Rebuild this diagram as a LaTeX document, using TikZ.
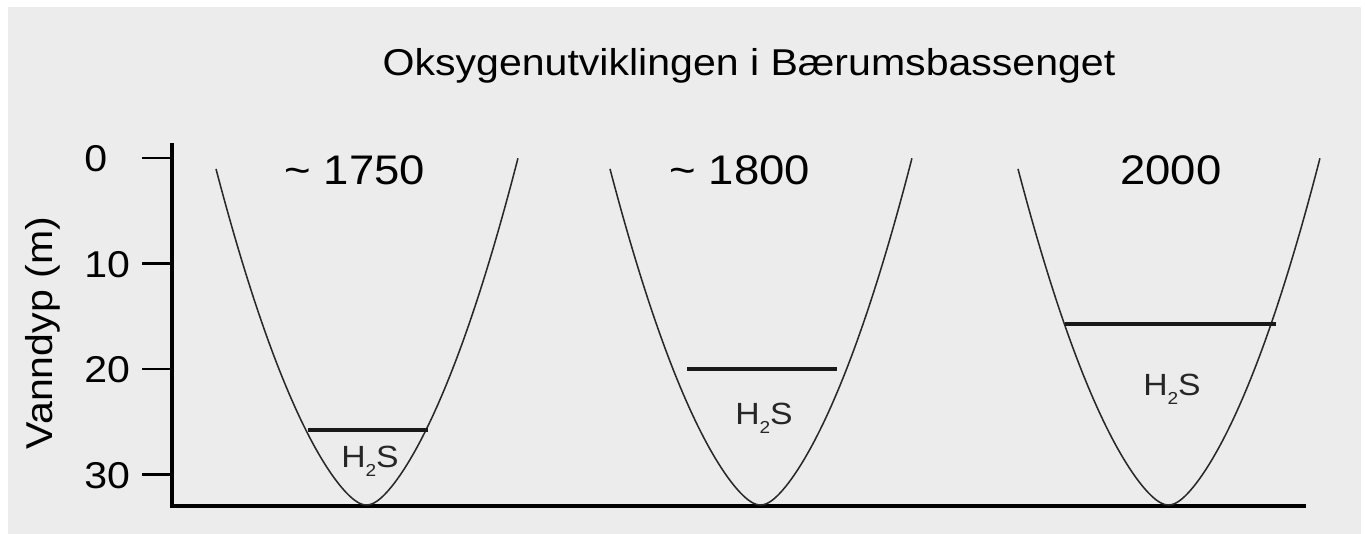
\documentclass[tikz,border=0pt]{standalone}
\usepackage{fontspec}
\setmainfont{Liberation Sans}[FakeStretch=1.1]
\usepackage{tikz}
\usetikzlibrary{positioning}
\definecolor{mybg}{RGB}{236,236,236}
\definecolor{mycurve}{RGB}{40,40,40}
\newcommand{\mysub}[1]{\raisebox{-6.5pt}{\fontsize{13}{13}\selectfont #1}}
\tikzset{
    myaxis/.style={line width=2.6pt,draw=black},
    mytick/.style={line width=2.2pt,draw=black},
    mybasin/.style={line width=1.15pt,draw=mycurve},
    mylevel/.style={line width=2.6pt,draw=black!90},
    mytitle/.style={font=\fontsize{28}{32}\selectfont,inner sep=0pt,anchor=base},
    myyear/.style={font=\fontsize{31}{36}\selectfont,inner sep=0pt,anchor=base},
    myticklabel/.style={font=\fontsize{28}{32}\selectfont,inner sep=0pt,anchor=base west},
    mygas/.style={font=\fontsize{23}{28}\selectfont,text=black!85,inner sep=0pt,anchor=base}
}

\begin{document}
\begin{tikzpicture}[x=0.75pt,y=-0.75pt]
  \useasboundingbox (0,0) rectangle (1365,534);
  \fill[white] (0,0) rectangle (1365,534);
  \fill[mybg] (8,7) rectangle (1361,534);
  % axes
  \coordinate (O) at (172,506);
  \coordinate (T) at (172,143);
  \coordinate (E) at (1306,506);
  \draw[myaxis] (T) -- (O) -- (E);
  \foreach \d in {0,10,20,30}{
    \coordinate (t\d) at (172,{158+10.55*\d});
    \coordinate (s\d) at (142,{158+10.55*\d});
    \draw[mytick] (t\d) -- (s\d);
    \node[myticklabel] (l\d) at (84,{172+10.55*\d}) {\d};
  }
  \node[mytitle] (title) at (749,76) {Oksygenutviklingen i Bærumsbassenget};
  \node[mytitle,rotate=90] (ylab) at (52,333) {Vanndyp (m)};
  % basins
  \foreach \i/\bx/\yx/\yr/\ly/\la/\lb/\gx/\gy in {%
      1/367/355/{\textasciitilde{} 1750}/430/308/428/370/468,
      2/761/740/{\textasciitilde{} 1800}/369/687/837/764/425,
      3/1169/1171/{2000}/324/1065/1276/1172/396}{
    \draw[mybasin] plot[domain=-1.51:1.51,samples=121]
      ({\bx+100*\x},{505-(100*\x*\x+83*(sqrt(\x*\x+0.0225)-0.15)+3.6*\x)});
    \node[myyear] (year\i) at (\yx,185) {\yr};
    \coordinate (la\i) at (\la,\ly);
    \coordinate (lb\i) at (\lb,\ly);
    \draw[mylevel] (la\i) -- (lb\i);
    \node[mygas] (gas\i) at (\gx,\gy) {H\mysub{2}S};
  }
\end{tikzpicture}
\end{document}
